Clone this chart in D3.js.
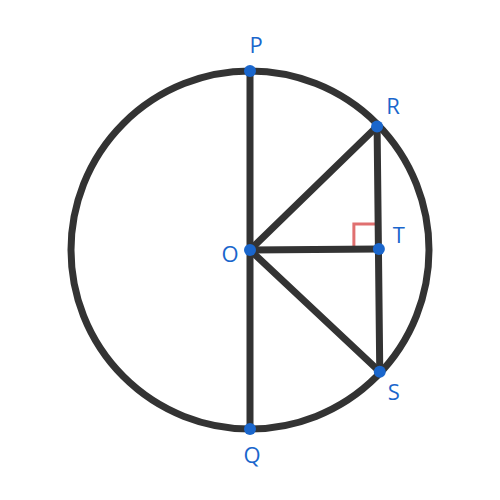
<!DOCTYPE html>
<html><head><script src="https://cdn.jsdelivr.net/npm/d3@7"></script>
<style>body{margin:0;background:#fff}</style></head>
<body><svg width="500" height="500"></svg>
<script>
const pointNames = ["P","Q","O","R","S","T"];
const pointX = [0, 0, 0, 0.71, 0.725, 0.72];
const pointY = [1, -1, 0, 0.69, -0.68, 0.005];
const labelDX = [6, 2, -20, 16, 14, 20];
const labelDY = [-24, 28, 6, -18, 22, -12];
const segments = [["P","Q"],["O","R"],["O","T"],["O","S"],["R","S"]];
const radius = 1;

const svg = d3.select("svg");
const x = d3.scaleLinear().domain([-1,1]).range([71,429]);
const y = d3.scaleLinear().domain([-1,1]).range([429,71]);
const pts = {};
pointNames.forEach((n,i)=>pts[n]={x:pointX[i],y:pointY[i]});

svg.append("circle").attr("cx",x(0)).attr("cy",y(0)).attr("r",x(radius)-x(0))
  .attr("fill","none").attr("stroke","#333").attr("stroke-width",7);

// right-angle marker at T
const T = pts.T, s = 25;
svg.append("path")
  .attr("d",`M${x(T.x)-s},${y(T.y)} L${x(T.x)-s},${y(T.y)-s} L${x(T.x)},${y(T.y)-s}`)
  .attr("fill","none").attr("stroke","#e07070").attr("stroke-width",3);

svg.selectAll("line.seg").data(segments).join("line")
  .attr("x1",d=>x(pts[d[0]].x)).attr("y1",d=>y(pts[d[0]].y))
  .attr("x2",d=>x(pts[d[1]].x)).attr("y2",d=>y(pts[d[1]].y))
  .attr("stroke","#333").attr("stroke-width",7).attr("stroke-linecap","round");

svg.selectAll("circle.pt").data(pointNames).join("circle")
  .attr("cx",d=>x(pts[d].x)).attr("cy",d=>y(pts[d].y)).attr("r",6).attr("fill","#1a66cc");

svg.selectAll("text").data(pointNames).join("text")
  .attr("x",(d,i)=>x(pts[d].x)+labelDX[i]).attr("y",(d,i)=>y(pts[d].y)+labelDY[i])
  .attr("text-anchor","middle").attr("dominant-baseline","middle")
  .attr("font-family","Open Sans, sans-serif").attr("font-size",22).attr("fill","#1a66cc")
  .text(d=>d);
</script></body></html>
